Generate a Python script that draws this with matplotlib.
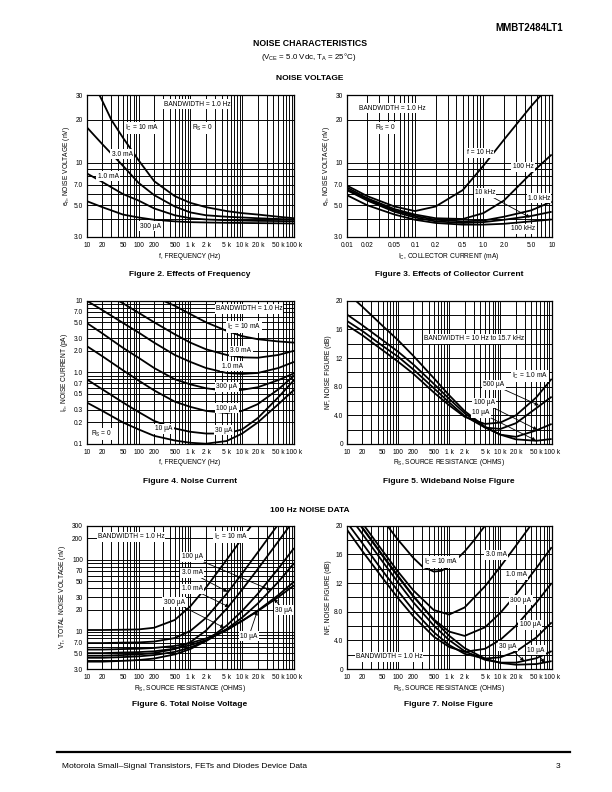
import matplotlib
matplotlib.use('Agg')
from matplotlib import pyplot as plt
from matplotlib.lines import Line2D
from matplotlib.ticker import NullFormatter

plt.rcParams['font.family'] = ['Liberation Sans', 'DejaVu Sans']
plt.rcParams['mathtext.fontset'] = 'custom'
plt.rcParams['mathtext.rm'] = 'Liberation Sans'

W, H = 612, 792

# ---------------- data ----------------
# Figure 2: noise voltage vs frequency
freq = [10, 20, 50, 100, 200, 500, 1e3, 2e3, 5e3, 1e4, 2e4, 5e4, 1e5]
fig2_freq_10ma = [17.6, 20, 30, 50, 100, 200, 500, 1e3, 2e3, 5e3, 1e4, 2e4, 5e4, 1e5]
fig2_en_10ma = [30, 27.3, 20, 15, 10.4, 7.4, 5.8, 5.2, 4.85, 4.55, 4.4, 4.3, 4.15, 4.05]
fig2_en_3ma = [17.8, 13.5, 9.5, 7.2, 5.9, 4.9, 4.45, 4.25, 4.15, 4.1, 4.05, 4.0, 3.97]
fig2_en_1ma = [8.4, 7.3, 6.0, 5.4, 4.75, 4.25, 4.05, 3.97, 3.92, 3.9, 3.88, 3.87, 3.86]
fig2_en_300ua = [5.35, 4.85, 4.3, 4.1, 3.95, 3.85, 3.8, 3.78, 3.76, 3.75, 3.74, 3.73, 3.72]

# Figure 3: noise voltage vs collector current
ic = [0.01, 0.02, 0.05, 0.1, 0.2, 0.5, 1.0, 2.0, 5.0, 10]
fig3_ic_10hz = [0.01, 0.02, 0.05, 0.1, 0.2, 0.5, 1.0, 2.0, 5.0, 7.0]
fig3_en_10hz = [6.9, 5.8, 4.9, 4.55, 4.9, 6.4, 9.5, 14.5, 25, 30]
fig3_en_100hz = [6.7, 5.6, 4.7, 4.3, 4.05, 4.0, 4.4, 5.4, 8.4, 11.4]
fig3_en_1khz = [6.5, 5.5, 4.6, 4.2, 3.95, 3.85, 3.9, 4.15, 4.6, 5.3]
fig3_en_10khz = [6.4, 5.4, 4.5, 4.1, 3.85, 3.75, 3.8, 3.95, 4.2, 4.5]
fig3_en_100khz = [5.9, 5.0, 4.3, 3.95, 3.75, 3.65, 3.65, 3.7, 3.85, 3.97]

# Figure 4: noise current vs frequency
fig4_freq_10ma = [300, 500, 1e3, 2e3, 5e3, 1e4, 2e4, 5e4, 1e5]
fig4_in_10ma = [10, 8.5, 6.5, 5.0, 3.8, 3.2, 2.9, 2.7, 2.6]
fig4_freq_3ma = [41, 50, 100, 200, 500, 1e3, 2e3, 5e3, 1e4, 2e4, 5e4, 1e5]
fig4_in_3ma = [10, 9.2, 6.8, 5.0, 3.4, 2.6, 2.1, 1.75, 1.62, 1.6, 1.75, 2.0]
fig4_in_1ma = [10, 7.4, 4.9, 3.6, 2.6, 1.75, 1.4, 1.15, 0.98, 0.95, 0.98, 1.15, 1.4]
fig4_in_300ua = [4.9, 3.5, 2.2, 1.6, 1.15, 0.8, 0.68, 0.6, 0.55, 0.57, 0.62, 0.78, 0.97]
fig4_in_100ua = [2.33, 1.68, 1.07, 0.77, 0.56, 0.39, 0.33, 0.29, 0.27, 0.29, 0.36, 0.58, 0.9]
fig4_in_30ua = [0.8, 0.58, 0.38, 0.28, 0.21, 0.165, 0.148, 0.14, 0.14, 0.16, 0.23, 0.45, 0.78]
fig4_in_10ua = [0.38, 0.29, 0.2, 0.16, 0.13, 0.112, 0.104, 0.101, 0.11, 0.14, 0.2, 0.36, 0.57]

# Figure 5: wideband noise figure vs source resistance
rs = [10, 20, 50, 100, 200, 500, 1e3, 2e3, 5e3, 1e4, 2e4, 5e4, 1e5]
fig5_rs_10ua = [15, 20, 50, 100, 200, 500, 1e3, 2e3, 5e3, 1e4, 2e4, 5e4, 1e5]
fig5_nf_10ua = [20, 19.2, 16.5, 14.5, 12.3, 9.2, 6.8, 4.6, 2.4, 1.3, 0.65, 0.45, 0.7]
fig5_nf_100ua = [18.1, 16.6, 14.5, 12.9, 11.1, 8.4, 6.3, 4.3, 2.3, 1.3, 1.0, 1.9, 2.8]
fig5_nf_500ua = [17.2, 15.8, 13.7, 12.2, 10.4, 7.8, 5.8, 3.9, 2.3, 2.1, 2.9, 5.0, 6.6]
fig5_nf_1ma = [16.6, 15.2, 13.1, 11.5, 9.8, 7.2, 5.4, 3.8, 2.8, 3.0, 4.0, 6.5, 9.1]

# Figure 6: total noise voltage vs source resistance (100 Hz)
fig6_vt_10ma = [10.5, 10.5, 10.6, 10.7, 11.3, 14.5, 22.5, 41, 100, 200, 400]
fig6_vt_3ma = [6.9, 6.9, 7.0, 7.05, 7.25, 8.1, 10.2, 15.5, 33.5, 64.7, 127.5, 316]
fig6_vt_1ma = [4.6, 4.6, 4.7, 4.8, 5.0, 5.7, 7.1, 10.3, 20.7, 38.5, 74.4, 182, 362]
fig6_vt_300ua = [3.8, 3.8, 3.9, 4.0, 4.2, 4.8, 5.7, 7.4, 12.1, 19.4, 33.6, 75.8, 146]
fig6_vt_100ua = [4.3, 4.3, 4.4, 4.5, 4.7, 5.2, 6.0, 7.35, 10.8, 15.7, 24.6, 49.4, 89.8]
fig6_vt_30ua = [5.0, 5.0, 5.1, 5.16, 5.3, 5.76, 6.45, 7.6, 10.4, 14.1, 19.6, 32.3, 49.6]
fig6_vt_10ua = [5.6, 5.6, 5.7, 5.75, 5.9, 6.3, 6.9, 8.0, 10.7, 14.1, 19.3, 30.3, 44]

# Figure 7: noise figure vs source resistance (100 Hz)
fig7_rs_10ma = [50, 70, 100, 200, 300, 500, 700, 1e3, 2e3, 3e3, 5e3, 7e3]
fig7_nf_10ma = [20.9, 19.5, 18.05, 15.5, 14.3, 13.6, 13.7, 14.3, 16.4, 17.9, 20.0, 21.4]
fig7_nf_3ma = [23.4, 20.4, 16.5, 13.6, 10.96, 8.23, 7.6, 8.59, 11.55, 14.3, 17.2, 21.1]
fig7_nf_1ma = [22.7, 19.7, 15.8, 12.9, 10.1, 6.92, 5.22, 4.62, 5.82, 7.85, 10.37, 14.07, 17.0]
fig7_nf_300ua = [19.5, 16.5, 12.7, 9.9, 7.34, 4.52, 3.07, 2.39, 2.82, 4.09, 6.02, 9.25, 12.0]
fig7_nf_100ua = [20.5, 17.6, 13.7, 10.9, 8.2, 5.14, 3.34, 2.12, 1.46, 1.64, 2.43, 4.40, 6.51]
fig7_nf_30ua = [21.8, 18.9, 15.0, 12.1, 9.3, 6.06, 4.03, 2.49, 1.28, 0.89, 0.89, 1.50, 2.50]
fig7_nf_10ua = [22.8, 19.8, 15.9, 13.0, 10.2, 6.8, 4.64, 2.92, 1.45, 0.85, 0.60, 0.69, 1.10]

# tick labels
freq_ticks = [10, 20, 50, 100, 200, 500, 1e3, 2e3, 5e3, 1e4, 2e4, 5e4, 1e5]
freq_labels = ['10', '20', '50', '100', '200', '500', '1 k', '2 k', '5 k', '10 k', '20 k', '50 k', '100 k']
ic_ticks = [0.01, 0.02, 0.05, 0.1, 0.2, 0.5, 1.0, 2.0, 5.0, 10]
ic_labels = ['0.01', '0.02', '0.05', '0.1', '0.2', '0.5', '1.0', '2.0', '5.0', '10']
en_ticks = [3, 5, 7, 10, 20, 30]
en_labels = ['3.0', '5.0', '7.0', '10', '20', '30']
in_ticks = [0.1, 0.2, 0.3, 0.5, 0.7, 1, 2, 3, 5, 7, 10]
in_labels = ['0.1', '0.2', '0.3', '0.5', '0.7', '1.0', '2.0', '3.0', '5.0', '7.0', '10']
vt_ticks = [3, 5, 7, 10, 20, 30, 50, 70, 100, 200, 300]
vt_labels = ['3.0', '5.0', '7.0', '10', '20', '30', '50', '70', '100', '200', '300']
nf_ticks = [0, 4, 8, 12, 16, 20]
nf_labels = ['0', '4.0', '8.0', '12', '16', '20']

LBL = 4.8
CURVE = dict(color='k', lw=1.3, solid_capstyle='butt')


def decade_grid(lo, hi):
    # every 1..9 step inside each decade
    out = []
    e = lo
    while e < hi:
        out += [d * 10.0 ** e for d in range(1, 10)]
        e += 1
    return out + [10.0 ** hi]


fig = plt.figure(figsize=(W / 100, H / 100), dpi=100)


def make_axes(left, top, right, bottom):
    return fig.add_axes([left / W, 1 - bottom / H, (right - left) / W, (bottom - top) / H])


def style(ax, xlim, ylim, xgrid, ygrid, xt, xl, yt, yl, ylog=True):
    ax.set_xscale('log')
    if ylog:
        ax.set_yscale('log')
    ax.set_xlim(xlim)
    ax.set_ylim(ylim)
    ax.set_xticks(xgrid, minor=True)
    ax.set_yticks(ygrid, minor=True)
    ax.set_xticks(xt)
    ax.set_xticklabels(xl)
    ax.set_yticks(yt)
    ax.set_yticklabels(yl)
    ax.xaxis.set_minor_formatter(NullFormatter())
    ax.yaxis.set_minor_formatter(NullFormatter())
    ax.tick_params(which='both', length=0, labelsize=LBL)
    ax.tick_params(axis='x', pad=3.6)
    ax.tick_params(axis='y', pad=2.6)
    ax.grid(which='both', color='k', lw=0.68)
    ax.set_axisbelow(True)
    for s in ax.spines.values():
        s.set_linewidth(0.9)


def ftext(s, x, y, size=LBL, **kw):
    kw.setdefault('ha', 'center')
    kw.setdefault('va', 'center')
    fig.text(x / W, 1 - y / H, s, fontsize=size, **kw)


def note(s, x, y):
    fig.text(x / W, 1 - y / H, s, fontsize=LBL, ha='center', va='center', zorder=5,
             bbox=dict(facecolor='white', edgecolor='none', pad=0.8))


def pointer(ax, s, xy, x, y):
    ax.annotate(s, xy=xy, xycoords='data', xytext=(x, H - y), textcoords='figure pixels',
                fontsize=LBL, ha='center', va='center', zorder=5, annotation_clip=False,
                bbox=dict(facecolor='white', edgecolor='none', pad=0.8),
                arrowprops=dict(arrowstyle='-|>', color='k', lw=0.6, mutation_scale=5,
                                shrinkA=0, shrinkB=0))


LX0, LX1, RX0, RX1 = 86.7, 294, 346.7, 551.7

# ---- Figure 2 ----
ax2 = make_axes(LX0, 95, LX1, 236.7)
style(ax2, (10, 1e5), (3, 30), decade_grid(1, 5), decade_grid(0, 1)[2:] + [20, 30],
      freq_ticks, freq_labels, en_ticks, en_labels)
ax2.plot(fig2_freq_10ma, fig2_en_10ma, **CURVE)
ax2.plot(freq, fig2_en_3ma, **CURVE)
ax2.plot(freq, fig2_en_1ma, **CURVE)
ax2.plot(freq, fig2_en_300ua, **CURVE)
note('BANDWIDTH = 1.0 Hz', 197, 104)
note(r'$\mathregular{I_C}$ = 10 mA', 142, 128)
note(r'$\mathregular{R_S}$ = 0', 203, 128)
note('3.0 mA', 122, 154)
note('1.0 mA', 108, 176)
note('300 µA', 150, 226)
ftext('f, FREQUENCY (Hz)', 190, 256)
ftext(r'$\mathregular{e_n}$, NOISE VOLTAGE (nV)', 67, 166, rotation=90)
ftext('Figure 2. Effects of Frequency', 190, 274, size=6, weight='bold')

# ---- Figure 3 ----
ax3 = make_axes(RX0, 95, RX1, 236.7)
style(ax3, (0.01, 10), (3, 30), decade_grid(-2, 1), decade_grid(0, 1)[2:] + [20, 30],
      ic_ticks, ic_labels, en_ticks, en_labels)
ax3.plot(fig3_ic_10hz, fig3_en_10hz, **CURVE)
ax3.plot(ic, fig3_en_100hz, **CURVE)
ax3.plot(ic, fig3_en_1khz, **CURVE)
ax3.plot(ic, fig3_en_10khz, **CURVE)
ax3.plot(ic, fig3_en_100khz, **CURVE)
note('BANDWIDTH = 1.0 Hz', 392, 108)
note(r'$\mathregular{R_S}$ = 0', 386, 128)
note('f = 10 Hz', 480, 153)
note('100 Hz', 523, 167)
pointer(ax3, '10 kHz', (4.8, 4.1), 485, 193)
note('1.0 kHz', 539, 198)
note('100 kHz', 523, 229)
ftext(r'$\mathregular{I_C}$, COLLECTOR CURRENT (mA)', 449, 256)
ftext(r'$\mathregular{e_n}$, NOISE VOLTAGE (nV)', 327, 166, rotation=90)
ftext('Figure 3. Effects of Collector Current', 449, 274, size=6, weight='bold')

# ---- Figure 4 ----
ax4 = make_axes(LX0, 300.7, LX1, 444)
style(ax4, (10, 1e5), (0.1, 10), decade_grid(1, 5), decade_grid(-1, 1),
      freq_ticks, freq_labels, in_ticks, in_labels)
ax4.plot(fig4_freq_10ma, fig4_in_10ma, **CURVE)
ax4.plot(fig4_freq_3ma, fig4_in_3ma, **CURVE)
ax4.plot(freq, fig4_in_1ma, **CURVE)
ax4.plot(freq, fig4_in_300ua, **CURVE)
ax4.plot(freq, fig4_in_100ua, **CURVE)
ax4.plot(freq, fig4_in_30ua, **CURVE)
ax4.plot(freq, fig4_in_10ua, **CURVE)
note('BANDWIDTH = 1.0 Hz', 249, 309)
note(r'$\mathregular{I_C}$ = 10 mA', 244, 327)
note('3.0 mA', 241, 351)
note('1.0 mA', 232, 366)
note('300 µA', 227, 387)
note('100 µA', 227, 408)
note('30 µA', 224, 430)
note('10 µA', 164, 429)
note(r'$\mathregular{R_S}$ = 0', 102, 434)
ftext('f, FREQUENCY (Hz)', 190, 463)
ftext(r'$\mathregular{I_n}$, NOISE CURRENT (pA)', 64, 372, rotation=90)
ftext('Figure 4. Noise Current', 190, 481, size=6, weight='bold')

# ---- Figure 5 ----
ax5 = make_axes(RX0, 300.7, RX1, 444)
style(ax5, (10, 1e5), (0, 20), decade_grid(1, 5), list(range(0, 21, 2)),
      freq_ticks, freq_labels, nf_ticks, nf_labels, ylog=False)
ax5.plot(fig5_rs_10ua, fig5_nf_10ua, **CURVE)
ax5.plot(rs, fig5_nf_100ua, **CURVE)
ax5.plot(rs, fig5_nf_500ua, **CURVE)
ax5.plot(rs, fig5_nf_1ma, **CURVE)
note('BANDWIDTH = 10 Hz to 15.7 kHz', 474, 339)
note(r'$\mathregular{I_C}$ = 1.0 mA', 530, 376)
pointer(ax5, '500 µA', (56e3, 5.4), 494, 385)
pointer(ax5, '100 µA', (52e3, 2.0), 484, 403)
pointer(ax5, '10 µA', (49e3, 0.5), 481, 413)
ftext(r'$\mathregular{R_S}$, SOURCE RESISTANCE (OHMS)', 449, 463)
ftext('NF, NOISE FIGURE (dB)', 328, 372, rotation=90)
ftext('Figure 5. Wideband Noise Figure', 449, 481, size=6, weight='bold')

# ---- Figure 6 ----
ax6 = make_axes(LX0, 525.7, LX1, 669)
style(ax6, (10, 1e5), (3, 300), decade_grid(1, 5), decade_grid(0, 2)[2:] + [200, 300],
      freq_ticks, freq_labels, vt_ticks, vt_labels)
ax6.plot(rs[:11], fig6_vt_10ma, **CURVE)
ax6.plot(rs[:12], fig6_vt_3ma, **CURVE)
ax6.plot(rs, fig6_vt_1ma, **CURVE)
ax6.plot(rs, fig6_vt_300ua, **CURVE)
ax6.plot(rs, fig6_vt_100ua, **CURVE)
ax6.plot(rs, fig6_vt_30ua, **CURVE)
ax6.plot(rs, fig6_vt_10ua, **CURVE)
note('BANDWIDTH = 1.0 Hz', 131, 537)
note(r'$\mathregular{I_C}$ = 10 mA', 231, 537)
pointer(ax6, '100 µA', (35e3, 38), 192, 557)
pointer(ax6, '3.0 mA', (5.2e3, 36), 192, 573)
pointer(ax6, '1.0 mA', (5.6e3, 22), 192, 589)
pointer(ax6, '300 µA', (4.5e3, 11.3), 174, 602)
pointer(ax6, '30 µA', (41e3, 28.5), 284, 610)
pointer(ax6, '10 µA', (19.5e3, 19.2), 249, 636)
ftext(r'$\mathregular{R_S}$, SOURCE RESISTANCE (OHMS)', 190, 688)
ftext(r'$\mathregular{V_T}$, TOTAL NOISE VOLTAGE (nV)', 62, 597, rotation=90)
ftext('Figure 6. Total Noise Voltage', 190, 705, size=6, weight='bold')

# ---- Figure 7 ----
ax7 = make_axes(RX0, 525.7, RX1, 669)
style(ax7, (10, 1e5), (0, 20), decade_grid(1, 5), list(range(0, 21, 2)),
      freq_ticks, freq_labels, nf_ticks, nf_labels, ylog=False)
ax7.plot(fig7_rs_10ma, fig7_nf_10ma, **CURVE)
ax7.plot(rs[:12], fig7_nf_3ma, **CURVE)
ax7.plot(rs, fig7_nf_1ma, **CURVE)
ax7.plot(rs, fig7_nf_300ua, **CURVE)
ax7.plot(rs, fig7_nf_100ua, **CURVE)
ax7.plot(rs, fig7_nf_30ua, **CURVE)
ax7.plot(rs, fig7_nf_10ua, **CURVE)
note(r'$\mathregular{I_C}$ = 10 mA', 441, 562)
note('3.0 mA', 496, 555)
note('1.0 mA', 516, 575)
note('300 µA', 521, 600)
note('100 µA', 530, 625)
pointer(ax7, '30 µA', (29e3, 1.1), 508, 646)
pointer(ax7, '10 µA', (71e3, 0.85), 536, 650)
note('BANDWIDTH = 1.0 Hz', 389, 657)
ftext(r'$\mathregular{R_S}$, SOURCE RESISTANCE (OHMS)', 449, 688)
ftext('NF, NOISE FIGURE (dB)', 328, 597, rotation=90)
ftext('Figure 7. Noise Figure', 449, 705, size=6, weight='bold')

# ---- page text ----
ftext('MMBT2484LT1', 563, 28, size=7, weight='heavy', ha='right')
ftext('NOISE CHARACTERISTICS', 310, 44, size=6.3, weight='bold')
ftext(r'($\mathregular{V_{CE}}$ = 5.0 Vdc, $\mathregular{T_A}$ = 25°C)', 309, 57, size=5.7)
ftext('NOISE VOLTAGE', 310, 78, size=6, weight='bold')
ftext('100 Hz NOISE DATA', 310, 510, size=6, weight='bold')

fig.add_artist(Line2D([57 / W, 570 / W], [1 - 752 / H] * 2, transform=fig.transFigure,
                      color='k', lw=1.6))
ftext('Motorola Small–Signal Transistors, FETs and Diodes Device Data', 62, 766,
      size=6, ha='left')
ftext('3', 560, 766, size=6, ha='right')

fig.savefig('out.png', dpi=100)
